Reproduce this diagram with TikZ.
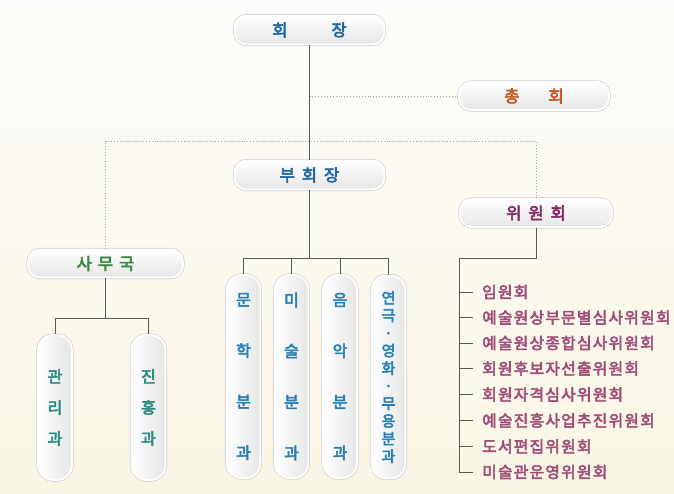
\documentclass[tikz,border=0pt]{standalone}
\usepackage{fontspec}
\newfontfamily\kr{Noto Sans CJK KR}[FakeBold=3.5]
\newfontfamily\krwide{Noto Sans CJK KR}[FakeBold=3.5, LetterSpace=8]
\definecolor{bgtop}{RGB}{253,252,250}
\definecolor{bgbot}{RGB}{250,246,228}
\definecolor{cBlue}{RGB}{30,105,165}
\definecolor{cDept}{RGB}{40,128,182}
\definecolor{cOrange}{RGB}{196,90,32}
\definecolor{cPurple}{RGB}{135,38,100}
\definecolor{cGreen}{RGB}{56,138,60}
\definecolor{cTeal}{RGB}{44,140,128}
\definecolor{cMauve}{RGB}{160,78,120}
\definecolor{cLine}{RGB}{90,90,90}
\tikzset{
  hbox/.style={rounded corners=12pt, minimum height=29pt, inner sep=0pt,
    preaction={draw=gray!40, line width=3.2pt},
    top color=white, bottom color=gray!20, draw=white, line width=1.9pt,
    font=\kr\fontsize{16.5}{19}\selectfont},
  pill/.style={rounded corners=15pt, minimum width=34pt, inner sep=0pt, align=center,
    preaction={draw=gray!40, line width=3.2pt},
    left color=white, right color=gray!20, draw=white, line width=1.9pt},
  conn/.style={draw=cLine, line width=0.8pt},
  dotc/.style={draw=gray!75, line width=0.9pt, dotted},
  item/.style={anchor=west, inner sep=0pt, text=cMauve,
    font=\krwide\fontsize{15.8}{17}\selectfont},
  tick/.style={draw=cLine, line width=0.8pt}
}
\begin{document}
\begin{tikzpicture}[x=1pt,y=-1pt]
% page background
\fill[top color=bgtop, bottom color=bgbot, shading angle=0] (0,0) rectangle (674,493);
\useasboundingbox (0,0) rectangle (674,493);

% head offices
\node[hbox, minimum width=150pt, text=cBlue] (pres) at (309.5,30) {회\hspace{44pt}장};
\node[hbox, minimum width=150pt, text=cOrange, minimum height=28pt] (assembly) at (534,96) {총\hspace{29pt}회};
\node[hbox, minimum width=150pt, text=cBlue] (vice) at (309.5,175) {부\hspace{7pt}회\hspace{7pt}장};
\node[hbox, minimum width=152pt, text=cPurple, minimum height=28pt] (committee) at (536,213) {위\hspace{7pt}원\hspace{7pt}회};
\node[hbox, minimum width=155pt, text=cGreen, minimum height=28pt] (office) at (105.5,263.5) {사\hspace{6pt}무\hspace{6pt}국};

% office sections
\node[pill, minimum height=145pt, text=cTeal, font=\kr\fontsize{16}{31}\selectfont] (admin) at (55,407.5) {관\\리\\과};
\node[pill, minimum height=145pt, text=cTeal, font=\kr\fontsize{16}{31}\selectfont] (promo) at (148.5,407.5) {진\\흥\\과};

% art divisions
\node[pill, minimum height=203pt, text=cDept, font=\kr\fontsize{16}{51}\selectfont] (lit) at (243.5,376.5) {문\\학\\분\\과};
\node[pill, minimum height=203pt, text=cDept, font=\kr\fontsize{16}{51}\selectfont] (fine) at (291.5,376.5) {미\\술\\분\\과};
\node[pill, minimum height=203pt, text=cDept, font=\kr\fontsize{16}{51}\selectfont] (music) at (340,376.5) {음\\악\\분\\과};
\node[pill, minimum height=203pt, text=cDept, font=\kr\fontsize{15}{17.6}\selectfont] (drama) at (388.5,377) {연\\극\\·\\영\\화\\·\\무\\용\\분\\과};

% committee list
\node[item] (c1) at (482,292) {임원회};
\node[item] (c2) at (482,317.5) {예술원상부문별심사위원회};
\node[item] (c3) at (482,343) {예술원상종합심사위원회};
\node[item] (c4) at (482,368.5) {회원후보자선출위원회};
\node[item] (c5) at (482,394.5) {회원자격심사위원회};
\node[item] (c6) at (482,420.5) {예술진흥사업추진위원회};
\node[item] (c7) at (482,446.5) {도서편집위원회};
\node[item] (c8) at (482,472) {미술관운영위원회};

% routing points
\coordinate (assemblyrow) at (0,96);
\coordinate (dotrow) at (0,141);
\coordinate (officebar) at (0,318);
\coordinate (divbar) at (0,258);
\coordinate (rail) at (459,258);

% solid connectors
\draw[conn] (pres.south) -- (vice.north);
\draw[conn] (vice.south) -- (vice.south |- divbar);
\draw[conn] (lit.north) |- (drama.north |- divbar) -- (drama.north);
\draw[conn] (fine.north) -- (fine.north |- divbar);
\draw[conn] (music.north) -- (music.north |- divbar);
\draw[conn] (office.south) -- (office.south |- officebar);
\draw[conn] (admin.north) |- (promo.north |- officebar) -- (promo.north);
\draw[conn] (committee.south) |- (rail) -- (rail |- c8.west) -- ([xshift=-9pt]c8.west);
\foreach \c in {c1,c2,c3,c4,c5,c6,c7}
  \draw[tick] (rail |- \c.west) -- ([xshift=-9pt]\c.west);

% dotted links
\draw[dotc] (pres.south |- assemblyrow) -- (assembly.west);
\draw[dotc] (office.north) -- (office.north |- dotrow) -- (committee.north |- dotrow) -- (committee.north);
\end{tikzpicture}
\end{document}
